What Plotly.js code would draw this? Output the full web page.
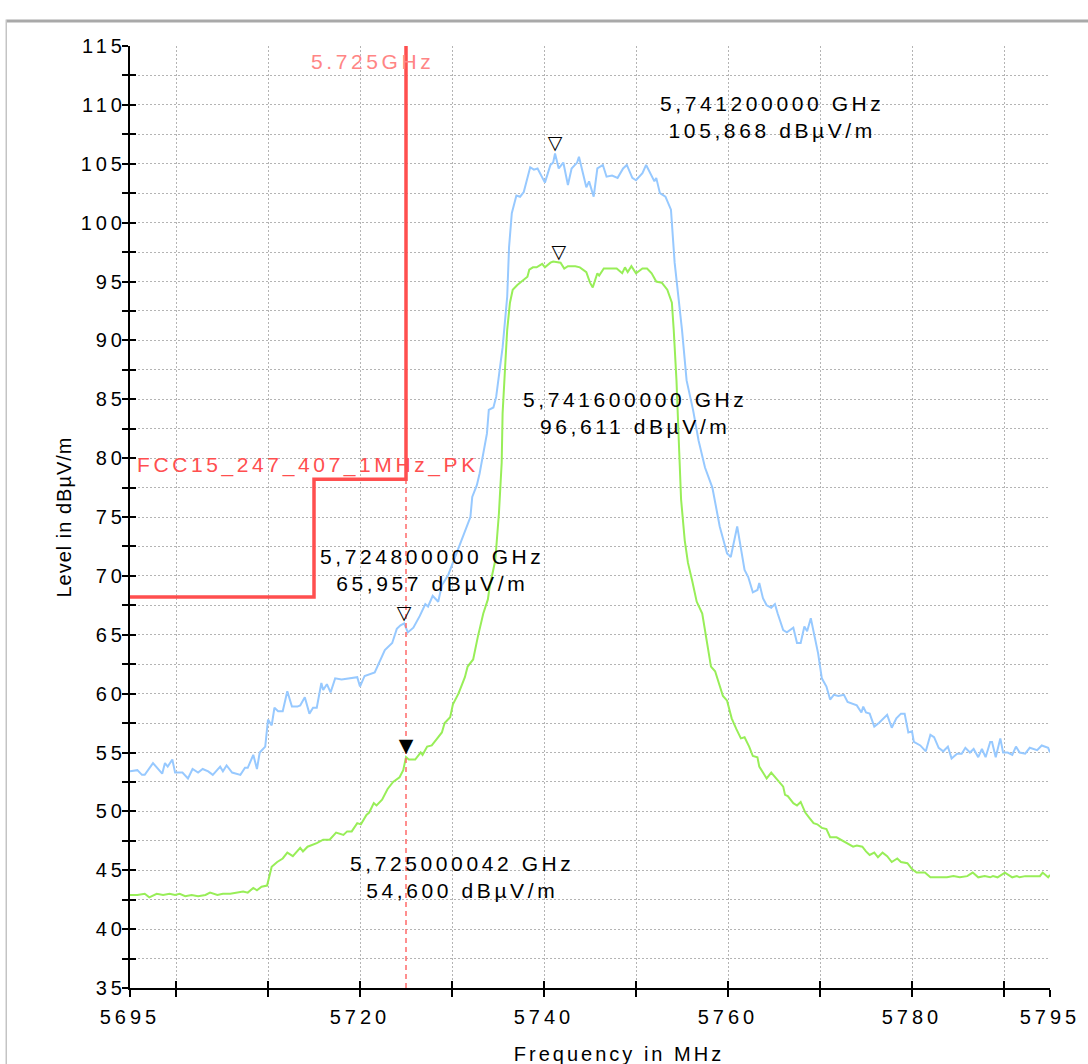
<!DOCTYPE html>
<html>
<head>
<meta charset="utf-8">
<script src="https://cdn.plot.ly/plotly-3.0.1.min.js"></script>
<style>
  html, body { margin: 0; padding: 0; background: #fff; }
  .xtick text, .ytick text { letter-spacing: 4px; }
  .annotation-text { letter-spacing: 3.6px; }
  .g-xtitle text { letter-spacing: 3px; }
  .g-xtitle { transform: translate(29px, 0px); }
  .g-ytitle text { letter-spacing: 1px; }
</style>
</head>
<body>
<div id="chart" style="width:1088px;height:1064px;"></div>
<script>
// ---- Peak trace (blue) ----
const peakFreqMHz = [5695.0,5695.8,5696.3,5696.6,5697.5,5698.5,5698.8,5699.1,5699.6,5699.9,5700.7,5701.3,5701.8,5702.4,5702.9,5703.5,5704.0,5704.8,5705.1,5705.5,5706.1,5707.0,5707.5,5707.8,5708.4,5708.8,5709.1,5709.7,5710.0,5710.4,5710.7,5711.1,5711.6,5712.1,5712.6,5713.2,5713.5,5714.0,5714.5,5714.9,5715.3,5715.8,5716.0,5716.4,5716.8,5717.3,5718.0,5718.9,5719.7,5720.0,5720.5,5721.6,5722.5,5722.7,5723.5,5724.0,5724.4,5724.8,5725.2,5725.8,5726.5,5727.1,5727.4,5727.9,5728.5,5728.9,5729.6,5730.1,5730.9,5731.6,5732.0,5732.2,5732.7,5733.0,5733.4,5733.8,5734.0,5734.5,5734.8,5735.2,5735.5,5736.0,5736.2,5736.5,5737.0,5737.4,5737.8,5738.5,5738.9,5739.3,5740.1,5740.7,5741.0,5741.2,5741.6,5742.1,5742.6,5743.0,5743.6,5743.8,5744.6,5744.9,5745.4,5745.8,5746.4,5746.8,5747.4,5748.0,5748.6,5749.0,5749.6,5750.0,5750.7,5751.1,5751.7,5752.0,5752.2,5752.6,5753.2,5753.8,5754.2,5755.0,5755.5,5756.2,5756.8,5757.5,5758.3,5758.6,5759.1,5759.9,5760.3,5761.0,5761.8,5762.2,5762.7,5763.2,5763.4,5763.8,5764.2,5764.7,5765.1,5765.4,5766.0,5766.4,5767.1,5767.5,5767.9,5768.3,5768.6,5769.0,5769.5,5769.8,5770.2,5770.7,5771.1,5771.5,5772.0,5772.6,5773.0,5773.6,5774.0,5774.5,5774.7,5775.0,5775.4,5775.9,5776.4,5777.3,5777.8,5778.3,5778.8,5779.2,5779.6,5780.0,5780.2,5780.9,5781.5,5782.0,5782.4,5782.9,5783.4,5783.9,5784.3,5784.9,5785.4,5785.8,5786.3,5786.7,5787.2,5787.6,5788.0,5788.5,5788.7,5789.1,5789.6,5789.9,5790.4,5790.9,5791.3,5791.7,5792.3,5792.8,5793.6,5794.1,5794.8,5795.0];
const peakLevel = [53.4,53.5,53.1,53.1,54.1,53.2,54.1,53.8,54.4,53.3,53.3,52.8,53.6,53.3,53.6,53.4,53.1,53.8,53.4,53.9,53.3,53.1,53.7,53.7,54.8,53.6,55.0,55.5,57.8,57.3,58.8,58.5,58.5,60.2,58.9,58.9,59.0,59.7,58.3,58.8,58.8,60.9,60.3,60.8,60.1,61.3,61.2,61.3,61.4,60.6,61.5,61.8,63.3,63.7,64.3,65.5,65.8,65.957,65.2,65.6,66.6,67.6,67.4,68.3,67.8,69.2,70.1,71.1,72.8,74.2,75.0,76.7,77.7,78.7,80.4,82.1,84.1,84.3,85.2,87.7,89.4,93.7,97.9,100.8,102.3,102.2,102.6,104.7,104.5,104.6,103.4,104.9,105.1,105.868,104.6,105.1,103.2,104.6,105.1,105.6,103.0,103.5,102.2,104.6,104.9,103.9,104.0,103.8,104.6,104.9,103.8,103.6,104.2,104.9,104.0,103.5,103.8,102.5,102.2,101.1,96.6,90.9,86.6,84.1,81.5,79.2,77.5,76.2,74.2,71.9,71.6,74.2,70.5,69.9,68.6,68.8,69.4,68.1,67.5,67.3,67.6,66.8,65.4,65.2,65.6,64.3,64.3,65.7,65.3,66.4,64.7,63.4,61.3,60.6,59.5,59.9,59.8,59.9,59.3,59.1,59.0,58.4,58.9,58.4,58.3,57.2,57.5,58.2,57.1,57.9,58.3,58.3,56.7,56.8,55.9,55.6,55.1,56.5,56.3,55.4,55.1,55.5,54.5,54.9,54.9,55.4,55.0,55.3,54.6,55.3,54.6,55.9,55.9,54.6,56.2,55.0,55.0,54.8,55.5,55.0,54.9,55.4,55.2,55.6,55.4,55.0];

// ---- Average trace (green) ----
const avgFreqMHz = [5695.0,5695.8,5696.6,5697.1,5697.9,5698.6,5699.3,5699.9,5700.4,5701.0,5701.7,5702.4,5703.2,5703.7,5704.5,5705.1,5705.9,5706.6,5707.3,5707.8,5708.4,5708.8,5709.3,5709.9,5710.4,5711.0,5711.6,5712.1,5712.7,5713.5,5713.8,5714.3,5715.3,5716.0,5716.7,5717.4,5717.8,5718.2,5718.6,5719.1,5719.7,5720.1,5720.7,5721.0,5721.5,5721.8,5722.4,5723.0,5723.6,5724.3,5724.7,5725.0,5725.3,5726.0,5726.6,5726.8,5727.3,5727.8,5728.4,5728.9,5729.2,5729.8,5730.1,5730.7,5731.0,5731.4,5731.7,5732.3,5732.8,5733.4,5733.9,5734.1,5734.7,5735.1,5735.4,5735.5,5735.8,5736.0,5736.3,5736.6,5737.1,5737.7,5738.2,5738.4,5738.8,5739.2,5739.8,5740.1,5740.7,5741.0,5741.6,5741.8,5742.2,5742.6,5743.4,5743.9,5744.6,5745.0,5745.3,5745.8,5746.0,5746.5,5747.2,5747.9,5748.5,5748.8,5749.1,5749.5,5750.0,5750.7,5751.2,5751.7,5752.2,5752.8,5753.4,5753.9,5754.1,5754.4,5754.7,5754.9,5755.3,5755.65,5756.1,5756.6,5757.2,5757.7,5758.15,5758.6,5759.1,5759.45,5759.9,5760.4,5760.9,5761.4,5761.8,5762.3,5762.7,5763.2,5763.4,5764.2,5764.7,5765.4,5766.0,5766.2,5766.5,5767.1,5767.5,5767.9,5768.4,5768.8,5769.3,5769.7,5770.2,5770.7,5771.1,5771.8,5772.5,5773.2,5773.6,5774.0,5774.6,5775.0,5775.4,5775.9,5776.3,5776.8,5777.3,5777.8,5778.4,5778.8,5779.5,5780.0,5780.5,5781.4,5782.0,5783.0,5783.8,5784.5,5785.2,5786.0,5786.6,5787.2,5787.9,5788.5,5788.8,5789.3,5790.1,5790.9,5791.4,5791.7,5792.3,5793.9,5794.2,5794.8,5795.0];
const avgLevel = [42.9,42.9,43.0,42.7,43.0,42.9,43.0,42.9,43.0,42.8,42.9,42.8,42.9,43.1,42.9,43.0,43.0,43.1,43.2,43.1,43.5,43.3,43.6,43.7,45.3,45.7,46.0,46.5,46.2,46.9,46.6,47.0,47.3,47.6,47.6,48.2,48.1,48.0,48.3,48.3,49.0,48.9,49.7,49.9,50.7,50.5,51.0,51.9,52.5,52.9,53.5,54.6,54.4,54.4,55.0,54.8,55.5,55.6,56.2,56.7,57.5,58.0,59.1,60.0,60.6,61.4,62.3,62.9,64.8,66.8,68.0,69.1,71.3,75.3,79.6,83.8,88.1,90.9,93.2,94.3,94.7,95.1,95.4,96.0,96.2,96.2,96.5,96.2,96.6,96.7,96.611,96.6,96.1,96.3,96.3,96.2,95.8,94.9,94.5,95.7,95.5,96.1,96.1,96.1,95.7,96.2,95.8,96.3,95.7,96.1,96.1,95.7,95.0,94.9,94.3,93.2,90.9,86.6,80.5,76.5,73.0,71.1,69.6,67.8,66.8,64.6,62.3,61.9,60.6,59.8,59.4,57.9,57.0,56.2,56.3,55.5,54.7,54.6,53.8,52.8,53.3,52.6,52.1,51.4,51.3,50.7,50.5,50.8,49.9,49.5,49.0,48.9,48.6,48.5,47.8,47.8,47.5,47.2,47.0,47.1,47.0,46.6,46.3,46.5,46.1,46.5,46.2,45.7,46.0,45.7,45.6,45.1,44.8,44.8,44.4,44.4,44.4,44.5,44.4,44.5,44.8,44.4,44.5,44.4,44.5,44.4,44.8,44.4,44.5,44.4,44.5,44.5,44.8,44.4,44.6];

// ---- Limit line FCC15_247_407_1MHz_PK ----
const limitName = 'FCC15_247_407_1MHz_PK';
const limitFreqMHz = [5695, 5715, 5715, 5725, 5725];
const limitLevel = [68.2, 68.2, 78.2, 78.2, 122.2];

// ---- Band edge line ----
const bandEdgeMHz = 5725;
const bandEdgeLabel = '5.725GHz';

// ---- Markers ----
const markerFreqMHz = [5741.2, 5741.6, 5724.8, 5725.000042];
const markerLevel = [105.868, 96.611, 65.957, 54.6];
const markerSymbol = ['\u25BD', '\u25BD', '\u25BD', '\u25BC'];

// ---- Axes ----
const xRange = [5695, 5795];
const yRange = [35, 115];
const xTickVals = [5695, 5700, 5710, 5720, 5730, 5740, 5750, 5760, 5770, 5780, 5790, 5795];
const xTickText = ['5695', '', '', '5720', '', '5740', '', '5760', '', '5780', '', '5795'];
const yTickVals = [35,37.5,40,42.5,45,47.5,50,52.5,55,57.5,60,62.5,65,67.5,70,72.5,75,77.5,80,82.5,85,87.5,90,92.5,95,97.5,100,102.5,105,107.5,110,112.5,115];
const yTickText = ['35','','40','','45','','50','','55','','60','','65','','70','','75','','80','','85','','90','','95','','100','','105','','110','','115'];

// label placement (pixel offsets from marker point) - styling only
const markerLabelShift = [[217, 37], [76, -150], [28, 53], [56, -120]];

const FONT = 'Liberation Sans, Arial, Helvetica, sans-serif';

function fmtGHz(mhz) { return (mhz / 1000).toFixed(9).replace('.', ',') + ' GHz'; }
function fmtLevel(v) { return v.toFixed(3).replace('.', ',') + ' dB\u00B5V/m'; }

const traces = [
  {
    x: peakFreqMHz, y: peakLevel, type: 'scatter', mode: 'lines',
    line: { color: '#97c9ff', width: 2 }, hoverinfo: 'skip', name: 'Peak'
  },
  {
    x: avgFreqMHz, y: avgLevel, type: 'scatter', mode: 'lines',
    line: { color: '#98ee58', width: 2 }, hoverinfo: 'skip', name: 'Average'
  },
  {
    x: [bandEdgeMHz, bandEdgeMHz], y: yRange, type: 'scatter', mode: 'lines',
    xaxis: 'x2', yaxis: 'y2',
    line: { color: '#ff6a6a', width: 1.5, dash: '5px,4px' }, hoverinfo: 'skip'
  },
  {
    x: limitFreqMHz, y: limitLevel, type: 'scatter', mode: 'lines',
    xaxis: 'x2', yaxis: 'y2',
    line: { color: '#ff4f4f', width: 3.5 }, hoverinfo: 'skip', name: limitName
  },
  {
    x: markerFreqMHz, y: markerLevel, type: 'scatter', mode: 'text',
    xaxis: 'x2', yaxis: 'y2',
    text: markerSymbol, textposition: 'top center', cliponaxis: false,
    textfont: { family: 'DejaVu Sans', size: 19, color: '#000' }, hoverinfo: 'skip'
  }
];

const annotations = markerFreqMHz.map((f, i) => ({
  x: f, y: markerLevel[i], xref: 'x', yref: 'y',
  text: fmtGHz(f) + '<br>' + fmtLevel(markerLevel[i]),
  showarrow: false, xanchor: 'center', yanchor: 'middle', align: 'center',
  xshift: markerLabelShift[i][0], yshift: markerLabelShift[i][1],
  font: { family: FONT, size: 21, color: '#000' }
}));
annotations.push({
  x: limitFreqMHz[0], y: limitLevel[2], xref: 'x', yref: 'y',
  text: limitName, showarrow: false, xanchor: 'left', yanchor: 'bottom',
  xshift: 5, yshift: 0,
  font: { family: FONT, size: 21, color: '#ff4f4f' }
});
annotations.push({
  x: bandEdgeMHz, y: 1, xref: 'x', yref: 'paper',
  text: bandEdgeLabel, showarrow: false, xanchor: 'center', yanchor: 'top',
  xshift: -34, yshift: -2,
  font: { family: FONT, size: 21, color: '#ff8585' }
});

const commonX = {
  range: xRange, tickmode: 'array', tickvals: xTickVals, ticktext: xTickText,
  ticklen: 7, tickwidth: 2, tickcolor: '#000', zeroline: false, fixedrange: true
};
const commonY = {
  range: yRange, tickmode: 'array', tickvals: yTickVals, ticktext: yTickText,
  ticklen: 6, tickwidth: 2, tickcolor: '#000', zeroline: false, fixedrange: true
};

const layout = {
  width: 1088, height: 1064,
  margin: { l: 130, r: 38, t: 46, b: 76 },
  paper_bgcolor: '#ffffff', plot_bgcolor: '#ffffff',
  showlegend: false,
  font: { family: FONT, size: 20, color: '#000' },
  xaxis: Object.assign({}, commonX, {
    ticks: 'outside', showline: true, linewidth: 2, linecolor: '#000',
    showgrid: true, gridcolor: '#b4b4b4', gridwidth: 1, griddash: '2px,2px',
    tickfont: { family: FONT, size: 20, color: '#000' }, ticklabelstandoff: 3,
    title: { text: 'Frequency in MHz', font: { family: FONT, size: 20, color: '#000' }, standoff: 20 }
  }),
  yaxis: Object.assign({}, commonY, {
    ticks: 'outside', showline: true, linewidth: 2, linecolor: '#000',
    showgrid: true, gridcolor: '#b4b4b4', gridwidth: 1, griddash: '2px,2px',
    tickfont: { family: FONT, size: 20, color: '#000' }, ticklabelstandoff: -8,
    title: { text: 'Level in dB\u00B5V/m', font: { family: FONT, size: 20, color: '#000' }, standoff: 4 }
  }),
  xaxis2: Object.assign({}, commonX, {
    overlaying: 'x', anchor: 'y2', side: 'bottom', ticks: 'inside',
    showline: false, showgrid: false, showticklabels: false
  }),
  yaxis2: Object.assign({}, commonY, {
    overlaying: 'y', anchor: 'x2', side: 'left', ticks: 'inside',
    showline: false, showgrid: false, showticklabels: false
  }),
  annotations: annotations,
  shapes: [
    { type: 'line', xref: 'paper', yref: 'paper', x0: -0.134, x1: 1.1, y0: 1.0265, y1: 1.0265,
      line: { color: '#a9a9a9', width: 3 } },
    { type: 'line', xref: 'paper', yref: 'paper', x0: -0.1345, x1: -0.1345, y0: 1.028, y1: -0.12,
      line: { color: '#c4c4c4', width: 1.5 } }
  ]
};

Plotly.newPlot('chart', traces, layout, { staticPlot: true, displayModeBar: false });
</script>
</body>
</html>
